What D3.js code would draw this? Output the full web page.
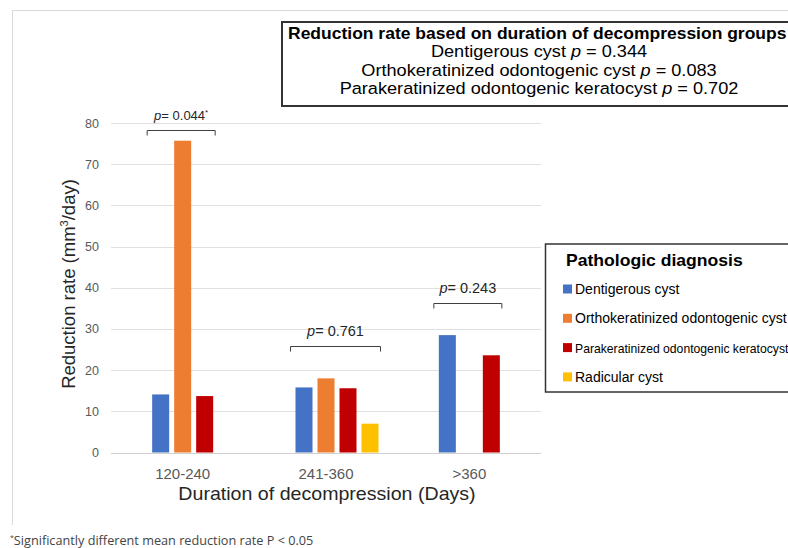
<!DOCTYPE html>
<html><head><meta charset="utf-8">
<script src="https://cdn.jsdelivr.net/npm/d3@7"></script>
<style>
body{margin:0;background:#fff;}
svg{display:block;font-family:"Liberation Sans",Arial,sans-serif;}
</style></head>
<body>
<svg id="chart" width="788" height="548"></svg>
<script>
// ---- data ----
const categories = ["120-240", "241-360", ">360"];
const seriesNames = ["Dentigerous cyst", "Orthokeratinized odontogenic cyst", "Parakeratinized odontogenic keratocyst", "Radicular cyst"];
const seriesColors = ["#4472C4", "#ED7D31", "#C00000", "#FFC000"];
const dentigerous = [14.1, 15.8, 28.5];
const orthokeratinized = [75.7, 18.0, null];
const parakeratinized = [13.7, 15.6, 23.6];
const radicular = [null, 7.0, null];
const yTicks = [0, 10, 20, 30, 40, 50, 60, 70, 80];
const bracketCategories = ["120-240", "241-360", ">360"];
const bracketLevels = [78.4, 25.9, 36.2];
const bracketLabels = ["0.044", "0.761", "0.243"];
const bracketStars = [true, false, false];
const boxTitle = "Reduction rate based on duration of decompression groups";
const boxLines = [["Dentigerous cyst ", "0.344"], ["Orthokeratinized odontogenic cyst ", "0.083"], ["Parakeratinized odontogenic keratocyst ", "0.702"]];
const legendTitle = "Pathologic diagnosis";
const yTitle = "Reduction rate (mm";
const xTitle = "Duration of decompression (Days)";
const footnote = "Significantly different mean reduction rate P < 0.05";

const allSeries = [dentigerous, orthokeratinized, parakeratinized, radicular];

const svg = d3.select("#chart");

// frame
svg.append("path").attr("d", "M12.5,525 L12.5,10.5 L788,10.5")
  .attr("fill", "none").attr("stroke", "#d9d9d9").attr("stroke-width", 1);

const plot = {left: 111, right: 541, top: 123, bottom: 452.5};
const x0 = d3.scaleBand().domain(categories).range([plot.left, plot.right]);
const slotKeys = ["_gap"].concat(seriesNames);
const x1 = d3.scaleBand().domain(slotKeys).range([0, 110]).paddingInner(0.227).paddingOuter(0.1135);
const y = d3.scaleLinear().domain([0, 80]).range([plot.bottom, plot.top]);

const groupLeft = c => x0(c) + x0.bandwidth() / 2 - 55;

// gridlines
svg.append("g").selectAll("line").data(yTicks).join("line")
  .attr("x1", plot.left).attr("x2", plot.right)
  .attr("y1", d => Math.round(y(d)) + 0.5).attr("y2", d => Math.round(y(d)) + 0.5)
  .attr("stroke", d => d === 0 ? "#d0d0d0" : "#e0e0e0").attr("stroke-width", 1);

// y axis labels
const yAxis = d3.axisLeft(y).tickValues(yTicks).tickSize(0).tickPadding(0);
const gy = svg.append("g").attr("transform", `translate(${plot.left - 12},0)`).call(yAxis);
gy.select(".domain").remove();
gy.selectAll("text").attr("font-size", 12.5).attr("fill", "#595959")
  .attr("font-family", "'Liberation Sans',Arial,sans-serif");

// x axis labels
const xAxis = d3.axisBottom(x0).tickSize(0).tickPadding(0);
const gx = svg.append("g").attr("transform", `translate(0,${plot.bottom + 16})`).call(xAxis);
gx.select(".domain").remove();
gx.selectAll("text").attr("font-size", 15).attr("fill", "#595959")
  .attr("font-family", "'Liberation Sans',Arial,sans-serif");

// bars
const barData = [];
allSeries.forEach((vals, si) => {
  vals.forEach((v, ci) => {
    if (v !== null) barData.push({cat: categories[ci], key: seriesNames[si], value: v, color: seriesColors[si]});
  });
});
svg.append("g").selectAll("rect").data(barData).join("rect")
  .attr("x", d => groupLeft(d.cat) + x1(d.key))
  .attr("width", x1.bandwidth())
  .attr("y", d => y(d.value))
  .attr("height", d => y(0) - y(d.value))
  .attr("fill", d => d.color);

// brackets
bracketCategories.forEach((c, i) => {
  const present = barData.filter(d => d.cat === c);
  const xs = present.map(d => groupLeft(c) + x1(d.key));
  const xl = d3.min(xs) - 5, xr = d3.max(xs) + x1.bandwidth() + 2;
  const yy = Math.round(y(bracketLevels[i])) + 0.5;
  svg.append("path")
    .attr("d", `M${xl},${yy + 5} L${xl},${yy} L${xr},${yy} L${xr},${yy + 5}`)
    .attr("fill", "none").attr("stroke", "#404040").attr("stroke-width", 1);
  const t = svg.append("text").attr("x", (xl + xr) / 2).attr("y", yy - 11)
    .attr("text-anchor", "middle").attr("font-size", bracketStars[i] ? 13 : 14.5).attr("fill", "#262626");
  t.append("tspan").attr("font-style", "italic").text("p");
  t.append("tspan").text("= " + bracketLabels[i]);
  if (bracketStars[i]) t.append("tspan").attr("font-size", 8).attr("dy", -5).text("*");
});

// y title
const yt = svg.append("text").attr("transform", "translate(75,284) rotate(-90)")
  .attr("text-anchor", "middle").attr("font-size", 18.5).attr("fill", "#262626");
yt.append("tspan").text(yTitle);
yt.append("tspan").attr("font-size", 11).attr("dy", -7).text("3");
yt.append("tspan").attr("dy", 7).text("/day)");

// x title
svg.append("g").attr("transform", "translate(327,500) scale(1.06,1)")
  .append("text").attr("x", 0).attr("y", 0).attr("text-anchor", "middle")
  .attr("font-size", 18.5).attr("fill", "#262626").text(xTitle);

// top box
svg.append("rect").attr("x", 282).attr("y", 22).attr("width", 520).attr("height", 84)
  .attr("fill", "#fff").attr("stroke", "#333").attr("stroke-width", 2);
svg.append("g").attr("transform", "translate(288,38.5) scale(1.06,1)")
  .append("text").attr("x", 0).attr("y", 0).attr("font-size", 16.5)
  .attr("font-weight", "bold").attr("fill", "#000").text(boxTitle);
boxLines.forEach((l, i) => {
  const t = svg.append("g").attr("transform", `translate(539,${57 + i * 18.5}) scale(1.1,1)`)
    .append("text").attr("x", 0).attr("y", 0)
    .attr("text-anchor", "middle").attr("font-size", 16.5).attr("fill", "#000");
  t.append("tspan").text(l[0]);
  t.append("tspan").attr("font-style", "italic").text("p");
  t.append("tspan").text(" = " + l[1]);
});

// legend
svg.append("rect").attr("x", 545.5).attr("y", 244).attr("width", 260).attr("height", 148)
  .attr("fill", "#fff").attr("stroke", "#333").attr("stroke-width", 1.5);
svg.append("g").attr("transform", "translate(566,265.5) scale(1.1,1)")
  .append("text").attr("x", 0).attr("y", 0).attr("font-size", 16)
  .attr("font-weight", "bold").attr("fill", "#000").text(legendTitle);
const legItems = svg.append("g").selectAll("g").data(seriesNames).join("g")
  .attr("transform", (d, i) => `translate(563,${289 + i * 29.3})`);
legItems.append("rect").attr("x", 0).attr("y", -4.5).attr("width", 9).attr("height", 9)
  .attr("fill", (d, i) => seriesColors[i]);
legItems.append("text").attr("x", 12).attr("y", 5)
  .attr("font-size", (d, i) => i === 2 ? 12.2 : 14).attr("fill", "#000").text(d => d);

// footnote
const fn = svg.append("text").attr("x", 10).attr("y", 545).attr("font-size", 12.7)
  .attr("font-family", "'Open Sans',sans-serif").attr("fill", "#444");
fn.append("tspan").attr("font-size", 7).attr("dy", -5).text("*");
fn.append("tspan").attr("dy", 5).text(footnote);
</script>
</body></html>
